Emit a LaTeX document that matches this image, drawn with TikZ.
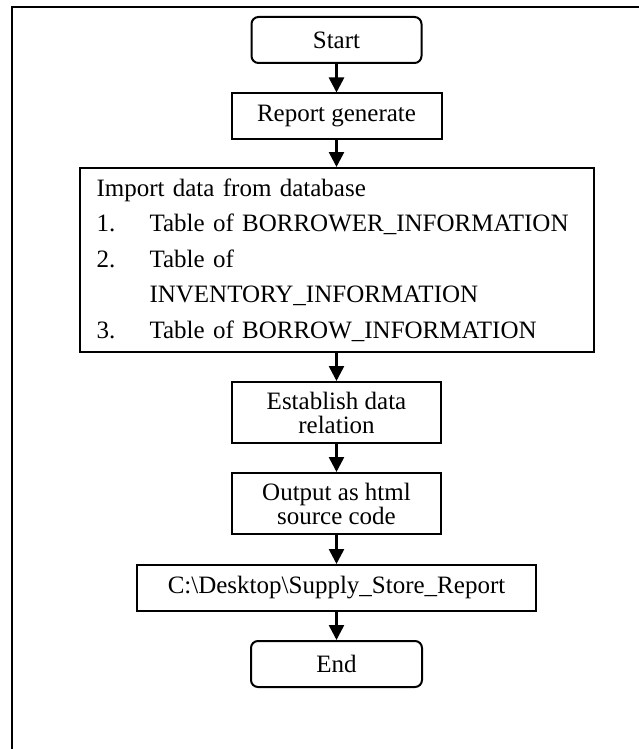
\documentclass[tikz,border=0pt]{standalone}
\usepackage{fontspec}
\setmainfont{Liberation Serif}
\usetikzlibrary{arrows.meta}
\begin{document}
\begin{tikzpicture}[x=1pt,y=-1pt,
  box/.style={draw=black,line width=2pt,rectangle,inner sep=2pt,align=center,
    font=\fontsize{25}{24}\selectfont},
  term/.style={box,rounded corners=7pt},
  arr/.style={line width=2.6pt,-{Triangle[width=15pt,length=15pt]}},
  frame/.style={line width=2.4pt}]
\useasboundingbox (0,0) rectangle (639,749);
\coordinate (ftr) at (639,7);
\coordinate (ftl) at (12,7);
\coordinate (fbl) at (12,749);
\draw[frame] (ftr) -- (ftl) -- (fbl);
\node[term,minimum width=170pt,minimum height=46pt] (start) at (336.5,40) {Start};
\node[box,minimum width=210pt,minimum height=45pt] (report) at (336.5,116) {Report generate};
\node[box,minimum width=514pt,minimum height=184pt,text width=480pt,inner xsep=17pt,align=left,
  font=\fontsize{25}{35.5}\selectfont] (import) at (336.5,260)
  {Import data from database\\
   \makebox[53pt][l]{1.}Table of BORROWER\_INFORMATION\\
   \makebox[53pt][l]{2.}Table of\\
   \makebox[53pt][l]{}INVENTORY\_INFORMATION\\
   \makebox[53pt][l]{3.}Table of BORROW\_INFORMATION};
\node[box,minimum width=209pt,minimum height=61pt] (relation) at (336.5,412.5) {Establish data\\relation};
\node[box,minimum width=209pt,minimum height=61pt] (output) at (336.5,503.5) {Output as html\\source code};
\node[box,minimum width=399pt,minimum height=46pt] (path) at (336.5,588) {C:\textbackslash Desktop\textbackslash Supply\_Store\_Report};
\node[term,minimum width=171pt,minimum height=46pt] (end) at (336.5,664) {End};
\draw[arr] (start) -- (report);
\draw[arr] (report) -- (import);
\draw[arr] (import) -- (relation);
\draw[arr] (relation) -- (output);
\draw[arr] (output) -- (path);
\draw[arr] (path) -- (end);
\end{tikzpicture}
\end{document}
